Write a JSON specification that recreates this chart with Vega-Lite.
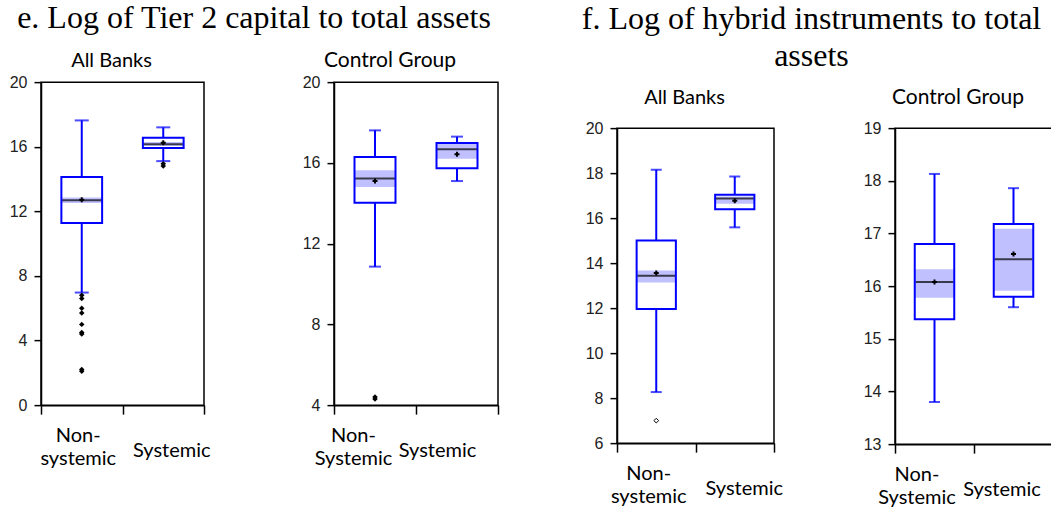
{
  "$schema": "https://vega.github.io/schema/vega-lite/v6.json",
  "padding": {"left": 8, "top": 2, "right": 0, "bottom": 0},
  "background": "white",
  "datasets": {
    "boxes": [
      {"panel": "e_all", "group": "Non-systemic", "lo": 6.97, "q1": 11.28, "median": 12.68, "q3": 14.12, "hi": 17.63, "mean": 12.72, "ci_lo": 12.52, "ci_hi": 12.86},
      {"panel": "e_all", "group": "Systemic", "lo": 15.11, "q1": 15.92, "median": 16.16, "q3": 16.56, "hi": 17.2, "mean": 16.25, "ci_lo": 16.05, "ci_hi": 16.3},
      {"panel": "e_ctrl", "group": "Non-systemic", "lo": 10.86, "q1": 14.02, "median": 15.22, "q3": 16.29, "hi": 17.61, "mean": 15.1, "ci_lo": 14.81, "ci_hi": 15.63},
      {"panel": "e_ctrl", "group": "Systemic", "lo": 15.1, "q1": 15.73, "median": 16.67, "q3": 16.99, "hi": 17.3, "mean": 16.43, "ci_lo": 16.2, "ci_hi": 16.99},
      {"panel": "f_all", "group": "Non-systemic", "lo": 8.27, "q1": 11.96, "median": 13.44, "q3": 15.01, "hi": 18.15, "mean": 13.56, "ci_lo": 13.14, "ci_hi": 13.67},
      {"panel": "f_all", "group": "Systemic", "lo": 15.59, "q1": 16.4, "median": 16.87, "q3": 17.04, "hi": 17.85, "mean": 16.77, "ci_lo": 16.64, "ci_hi": 16.96},
      {"panel": "f_ctrl", "group": "Non-systemic", "lo": 13.8, "q1": 15.37, "median": 16.08, "q3": 16.8, "hi": 18.13, "mean": 16.08, "ci_lo": 15.78, "ci_hi": 16.32},
      {"panel": "f_ctrl", "group": "Systemic", "lo": 15.6, "q1": 15.8, "median": 16.51, "q3": 17.18, "hi": 17.86, "mean": 16.61, "ci_lo": 15.91, "ci_hi": 17.09}
    ],
    "outliers": [
      {"panel": "e_all", "group": "Non-systemic", "value": 6.8},
      {"panel": "e_all", "group": "Non-systemic", "value": 6.6},
      {"panel": "e_all", "group": "Non-systemic", "value": 6.0},
      {"panel": "e_all", "group": "Non-systemic", "value": 5.7},
      {"panel": "e_all", "group": "Non-systemic", "value": 5.0},
      {"panel": "e_all", "group": "Non-systemic", "value": 4.5},
      {"panel": "e_all", "group": "Non-systemic", "value": 4.4},
      {"panel": "e_all", "group": "Non-systemic", "value": 2.2},
      {"panel": "e_all", "group": "Non-systemic", "value": 2.1},
      {"panel": "e_all", "group": "Systemic", "value": 14.95},
      {"panel": "e_all", "group": "Systemic", "value": 14.8},
      {"panel": "e_ctrl", "group": "Non-systemic", "value": 4.4},
      {"panel": "e_ctrl", "group": "Non-systemic", "value": 4.3},
      {"panel": "f_all", "group": "Non-systemic", "value": 7.0}
    ]
  },
  "config": {
    "view": {"stroke": "black", "strokeWidth": 1.5},
    "axisY": {"grid": false, "domainColor": "black", "domainWidth": 1.5, "tickColor": "black", "tickWidth": 1.5, "tickSize": 7, "labelPadding": 7, "labelFont": "Liberation Sans", "labelFontSize": 16, "labelColor": "#222222"},
    "axisX": {"grid": false, "domainColor": "black", "domainWidth": 1.5, "tickColor": "black", "tickWidth": 1.5, "tickSize": 9, "tickBand": "extent", "labelAngle": 0, "labelFont": "Lato", "labelFontSize": 20, "labelColor": "black", "labelBaseline": "top", "labelLineHeight": 23, "labelPadding": {"condition": {"test": "datum.value == 'Systemic'", "value": 26}, "value": 11}}
  },
  "columns": 2,
  "center": true,
  "spacing": 81,
  "concat": [
    {
      "title": {"text": "e. Log of Tier 2 capital to total assets", "font": "Liberation Serif", "fontSize": 32, "fontWeight": "normal", "color": "black", "anchor": "middle", "offset": 14},
      "spacing": 90,
      "hconcat": [
        {
          "width": 163, "height": 323,
          "title": {"text": "All Banks", "font": "Lato", "fontSize": 20, "fontWeight": "normal", "color": "black", "anchor": "middle", "offset": 3, "dx": -11},
          "data": {"name": "boxes"},
          "transform": [{"filter": "datum.panel == 'e_all'"}],
          "encoding": {
            "x": {"field": "group", "type": "nominal", "title": " ", "sort": ["Non-systemic", "Systemic"], "scale": {"paddingInner": 0, "paddingOuter": 0}, "axis": {"titleFontSize": 10, "titlePadding": 75, "labelOffset": {"condition": {"test": "datum.value == 'Systemic'", "value": 8}, "value": -4}, "labelExpr": "datum.value == 'Non-systemic' ? ['Non-', 'systemic'] : datum.value"}}
          },
          "layer": [
            {"mark": {"type": "rule", "color": "#0000ff", "strokeWidth": 2}, "encoding": {"y": {"field": "lo", "type": "quantitative", "title": null, "scale": {"domain": [0, 20], "nice": false, "zero": false}, "axis": {"values": [0, 4, 8, 12, 16, 20]}}, "y2": {"field": "hi"}}},
            {"mark": {"type": "tick", "color": "#0000ff", "thickness": 2, "size": 14}, "encoding": {"y": {"field": "lo", "type": "quantitative", "title": null}}},
            {"mark": {"type": "tick", "color": "#0000ff", "thickness": 2, "size": 14}, "encoding": {"y": {"field": "hi", "type": "quantitative", "title": null}}},
            {"mark": {"type": "bar", "fill": "white", "width": {"band": 0.5}}, "encoding": {"y": {"field": "q1", "type": "quantitative", "title": null}, "y2": {"field": "q3"}}},
            {"mark": {"type": "bar", "fill": "#c0c0ff", "width": {"band": 0.5}}, "encoding": {"y": {"field": "ci_lo", "type": "quantitative", "title": null}, "y2": {"field": "ci_hi"}}},
            {"mark": {"type": "tick", "color": "black", "thickness": 2, "size": 40}, "encoding": {"y": {"field": "median", "type": "quantitative", "title": null}}},
            {"mark": {"type": "bar", "fillOpacity": 0, "stroke": "#0000ff", "strokeWidth": 2, "width": {"band": 0.5}}, "encoding": {"y": {"field": "q1", "type": "quantitative", "title": null}, "y2": {"field": "q3"}}},
            {"mark": {"type": "point", "shape": "cross", "filled": true, "color": "black", "size": 25, "opacity": 1}, "encoding": {"y": {"field": "mean", "type": "quantitative", "title": null}}},
            {"data": {"name": "outliers"}, "transform": [{"filter": "datum.panel == 'e_all'"}], "mark": {"type": "point", "shape": "diamond", "filled": true, "color": "black", "size": 30, "opacity": 1}, "encoding": {"y": {"field": "value", "type": "quantitative", "title": null}}}
          ]
        },
        {
          "width": 164, "height": 323,
          "title": {"text": "Control Group", "font": "Lato", "fontSize": 21, "fontWeight": "normal", "color": "black", "anchor": "middle", "offset": 3, "dx": -26},
          "data": {"name": "boxes"},
          "transform": [{"filter": "datum.panel == 'e_ctrl'"}],
          "encoding": {
            "x": {"field": "group", "type": "nominal", "title": null, "sort": ["Non-systemic", "Systemic"], "scale": {"paddingInner": 0, "paddingOuter": 0}, "axis": {"labelOffset": {"condition": {"test": "datum.value == 'Systemic'", "value": -20}, "value": -22}, "labelExpr": "datum.value == 'Non-systemic' ? ['Non-', 'Systemic'] : datum.value"}}
          },
          "layer": [
            {"mark": {"type": "rule", "color": "#0000ff", "strokeWidth": 2}, "encoding": {"y": {"field": "lo", "type": "quantitative", "title": null, "scale": {"domain": [4, 20], "nice": false, "zero": false}, "axis": {"values": [4, 8, 12, 16, 20]}}, "y2": {"field": "hi"}}},
            {"mark": {"type": "tick", "color": "#0000ff", "thickness": 2, "size": 12}, "encoding": {"y": {"field": "lo", "type": "quantitative", "title": null}}},
            {"mark": {"type": "tick", "color": "#0000ff", "thickness": 2, "size": 12}, "encoding": {"y": {"field": "hi", "type": "quantitative", "title": null}}},
            {"mark": {"type": "bar", "fill": "white", "width": {"band": 0.5}}, "encoding": {"y": {"field": "q1", "type": "quantitative", "title": null}, "y2": {"field": "q3"}}},
            {"mark": {"type": "bar", "fill": "#c0c0ff", "width": {"band": 0.5}}, "encoding": {"y": {"field": "ci_lo", "type": "quantitative", "title": null}, "y2": {"field": "ci_hi"}}},
            {"mark": {"type": "tick", "color": "black", "thickness": 2, "size": 40}, "encoding": {"y": {"field": "median", "type": "quantitative", "title": null}}},
            {"mark": {"type": "bar", "fillOpacity": 0, "stroke": "#0000ff", "strokeWidth": 2, "width": {"band": 0.5}}, "encoding": {"y": {"field": "q1", "type": "quantitative", "title": null}, "y2": {"field": "q3"}}},
            {"mark": {"type": "point", "shape": "cross", "filled": true, "color": "black", "size": 25, "opacity": 1}, "encoding": {"y": {"field": "mean", "type": "quantitative", "title": null}}},
            {"data": {"name": "outliers"}, "transform": [{"filter": "datum.panel == 'e_ctrl'"}], "mark": {"type": "point", "shape": "diamond", "filled": true, "color": "black", "size": 30, "opacity": 1}, "encoding": {"y": {"field": "value", "type": "quantitative", "title": null}}}
          ]
        }
      ]
    },
    {
      "title": {"text": ["f. Log of hybrid instruments to total", "assets"], "font": "Liberation Serif", "fontSize": 32, "fontWeight": "normal", "color": "black", "anchor": "middle", "offset": 13, "lineHeight": 37, "dx": -8},
      "spacing": 78,
      "hconcat": [
        {
          "width": 157, "height": 315,
          "title": {"text": "All Banks", "font": "Lato", "fontSize": 20, "fontWeight": "normal", "color": "black", "anchor": "middle", "offset": 12, "dx": -11},
          "data": {"name": "boxes"},
          "transform": [{"filter": "datum.panel == 'f_all'"}],
          "encoding": {
            "x": {"field": "group", "type": "nominal", "title": null, "sort": ["Non-systemic", "Systemic"], "scale": {"paddingInner": 0, "paddingOuter": 0}, "axis": {"labelOffset": {"condition": {"test": "datum.value == 'Systemic'", "value": 9}, "value": -8}, "labelExpr": "datum.value == 'Non-systemic' ? ['Non-', 'systemic'] : datum.value"}}
          },
          "layer": [
            {"mark": {"type": "rule", "color": "#0000ff", "strokeWidth": 2}, "encoding": {"y": {"field": "lo", "type": "quantitative", "title": null, "scale": {"domain": [6, 20], "nice": false, "zero": false}, "axis": {"values": [6, 8, 10, 12, 14, 16, 18, 20]}}, "y2": {"field": "hi"}}},
            {"mark": {"type": "tick", "color": "#0000ff", "thickness": 2, "size": 11}, "encoding": {"y": {"field": "lo", "type": "quantitative", "title": null}}},
            {"mark": {"type": "tick", "color": "#0000ff", "thickness": 2, "size": 11}, "encoding": {"y": {"field": "hi", "type": "quantitative", "title": null}}},
            {"mark": {"type": "bar", "fill": "white", "width": {"band": 0.5}}, "encoding": {"y": {"field": "q1", "type": "quantitative", "title": null}, "y2": {"field": "q3"}}},
            {"mark": {"type": "bar", "fill": "#c0c0ff", "width": {"band": 0.5}}, "encoding": {"y": {"field": "ci_lo", "type": "quantitative", "title": null}, "y2": {"field": "ci_hi"}}},
            {"mark": {"type": "tick", "color": "black", "thickness": 2, "size": 38}, "encoding": {"y": {"field": "median", "type": "quantitative", "title": null}}},
            {"mark": {"type": "bar", "fillOpacity": 0, "stroke": "#0000ff", "strokeWidth": 2, "width": {"band": 0.5}}, "encoding": {"y": {"field": "q1", "type": "quantitative", "title": null}, "y2": {"field": "q3"}}},
            {"mark": {"type": "point", "shape": "cross", "filled": true, "color": "black", "size": 25, "opacity": 1}, "encoding": {"y": {"field": "mean", "type": "quantitative", "title": null}}},
            {"data": {"name": "outliers"}, "transform": [{"filter": "datum.panel == 'f_all'"}], "mark": {"type": "point", "shape": "diamond", "filled": false, "color": "black", "strokeWidth": 1, "size": 22, "opacity": 1}, "encoding": {"y": {"field": "value", "type": "quantitative", "title": null}}}
          ]
        },
        {
          "width": 158, "height": 316,
          "title": {"text": "Control Group", "font": "Lato", "fontSize": 21, "fontWeight": "normal", "color": "black", "anchor": "middle", "offset": 12, "dx": -16},
          "data": {"name": "boxes"},
          "transform": [{"filter": "datum.panel == 'f_ctrl'"}],
          "encoding": {
            "x": {"field": "group", "type": "nominal", "title": null, "sort": ["Non-systemic", "Systemic"], "scale": {"paddingInner": 0, "paddingOuter": 0}, "axis": {"labelOffset": {"condition": {"test": "datum.value == 'Systemic'", "value": -12}, "value": -18}, "labelExpr": "datum.value == 'Non-systemic' ? ['Non-', 'Systemic'] : datum.value"}}
          },
          "layer": [
            {"mark": {"type": "rule", "color": "#0000ff", "strokeWidth": 2}, "encoding": {"y": {"field": "lo", "type": "quantitative", "title": null, "scale": {"domain": [13, 19], "nice": false, "zero": false}, "axis": {"values": [13, 14, 15, 16, 17, 18, 19]}}, "y2": {"field": "hi"}}},
            {"mark": {"type": "tick", "color": "#0000ff", "thickness": 2, "size": 11}, "encoding": {"y": {"field": "lo", "type": "quantitative", "title": null}}},
            {"mark": {"type": "tick", "color": "#0000ff", "thickness": 2, "size": 11}, "encoding": {"y": {"field": "hi", "type": "quantitative", "title": null}}},
            {"mark": {"type": "bar", "fill": "white", "width": {"band": 0.5}}, "encoding": {"y": {"field": "q1", "type": "quantitative", "title": null}, "y2": {"field": "q3"}}},
            {"mark": {"type": "bar", "fill": "#c0c0ff", "width": {"band": 0.5}}, "encoding": {"y": {"field": "ci_lo", "type": "quantitative", "title": null}, "y2": {"field": "ci_hi"}}},
            {"mark": {"type": "tick", "color": "black", "thickness": 2, "size": 38}, "encoding": {"y": {"field": "median", "type": "quantitative", "title": null}}},
            {"mark": {"type": "bar", "fillOpacity": 0, "stroke": "#0000ff", "strokeWidth": 2, "width": {"band": 0.5}}, "encoding": {"y": {"field": "q1", "type": "quantitative", "title": null}, "y2": {"field": "q3"}}},
            {"mark": {"type": "point", "shape": "cross", "filled": true, "color": "black", "size": 25, "opacity": 1}, "encoding": {"y": {"field": "mean", "type": "quantitative", "title": null}}}
          ]
        }
      ]
    }
  ]
}
